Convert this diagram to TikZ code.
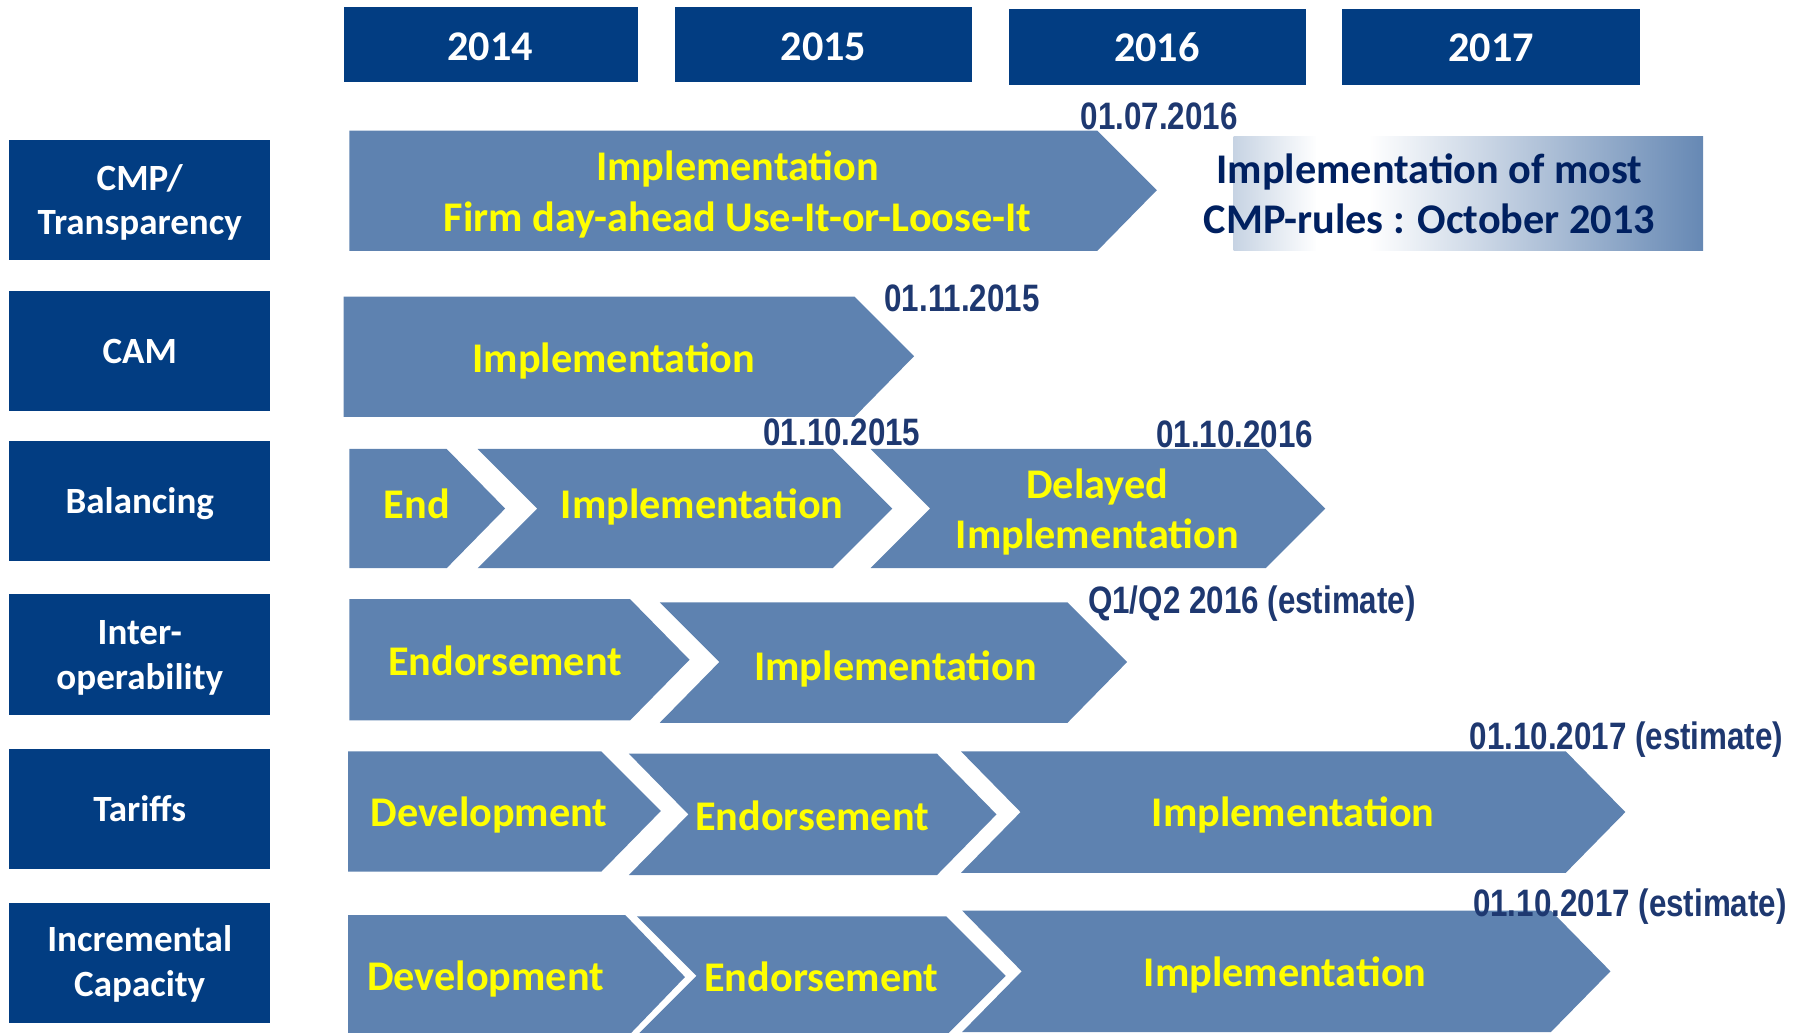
\documentclass[tikz,border=0pt]{standalone}
\usepackage{fontspec}
\setmainfont{Carlito}
\newfontfamily\datefont[FakeStretch=0.82]{Liberation Sans}
\usetikzlibrary{positioning}

\definecolor{navybox}{RGB}{2,61,130}
\definecolor{chevblue}{RGB}{94,130,176}
\definecolor{datecol}{RGB}{30,56,112}
\definecolor{darktext}{RGB}{0,32,96}
\definecolor{yell}{RGB}{255,255,0}

\tikzset{
  yearbox/.style={fill=navybox},
  rowbox/.style={fill=navybox},
  chev/.style={fill=chevblue},
  yeartxt/.style={anchor=base, text=white, font=\fontsize{21}{25}\selectfont\bfseries},
  rowtxt/.style={anchor=base, text=white, font=\fontsize{18.4}{22}\selectfont\bfseries},
  phase/.style={anchor=base, text=yell, font=\fontsize{21}{25}\selectfont\bfseries},
  datetxt/.style={anchor=base, text=datecol, font=\datefont\fontsize{19}{23}\selectfont\bfseries},
  notetxt/.style={anchor=base, text=darktext, font=\fontsize{21}{25}\selectfont\bfseries}
}

\begin{document}
\begin{tikzpicture}[x=0.02cm,y=-0.02cm]
\useasboundingbox (0,0) rectangle (1568,901);
\clip (0,0) rectangle (1568,901);

% years
\fill [yearbox] (300,6) rectangle (557,72);
\fill [yearbox] (589,6) rectangle (849,72);
\fill [yearbox] (881,8) rectangle (1140,74);
\fill [yearbox] (1172,8) rectangle (1432,74);
\node [yeartxt] (y14) at (428,53) {2014};
\node [yeartxt] (y15) at (719,53) {2015};
\node [yeartxt] (y16) at (1010,54) {2016};
\node [yeartxt] (y17) at (1302,54) {2017};

% rows
\fill [rowbox] (8,122) rectangle (236,227);
\fill [rowbox] (8,254) rectangle (236,359);
\fill [rowbox] (8,385) rectangle (236,490);
\fill [rowbox] (8,519) rectangle (236,624);
\fill [rowbox] (8,654) rectangle (236,759);
\fill [rowbox] (8,788) rectangle (236,893);
\node [rowtxt] (cmp1) at (122,166) {CMP/};
\node [rowtxt] (cmp2) at (122,205) {Transparency};
\node [rowtxt] (cam) at (122,317) {CAM};
\node [rowtxt] (bal) at (122,448) {Balancing};
\node [rowtxt] (int1) at (122,563) {Inter-};
\node [rowtxt] (int2) at (122,602) {operability};
\node [rowtxt] (tar) at (122,717) {Tariffs};
\node [rowtxt] (inc1) at (122,831) {Incremental};
\node [rowtxt] (inc2) at (122,870) {Capacity};

% CMP
\fill [chev] (305,114) -- (958,114) -- (1010,166) -- (958,219) -- (305,219) -- cycle;
\shade [left color=chevblue!35, right color=white] (1077,119) rectangle (1150,219);
\fill [white] (1149,119) rectangle (1196,219);
\shade [left color=white, right color=chevblue!95] (1195,119) rectangle (1487,219);
\node [phase] (cmpa) at (644,158) {Implementation};
\node [phase] (cmpb) at (644,202) {Firm day-ahead Use-It-or-Loose-It};
\node [notetxt] (most1) at (1248,160) {Implementation of most};
\node [notetxt] (most2) at (1248,204) {CMP-rules : October 2013};
\node [datetxt] (d1) at (1012,113) {01.07.2016};

% CAM
\fill [chev] (300,259) -- (746,259) -- (798,311) -- (746,364) -- (300,364) -- cycle;
\node [phase] (cama) at (536,325) {Implementation};
\node [datetxt] (d2) at (840,272) {01.11.2015};

% Balancing
\fill [chev] (305,392) -- (390,392) -- (441,444) -- (390,496) -- (305,496) -- cycle;
\fill [chev] (417,392) -- (727,392) -- (779,444) -- (727,496) -- (417,496) -- (469,444) -- cycle;
\fill [chev] (760,392) -- (1105,392) -- (1157,444) -- (1105,496) -- (760,496) -- (812,444) -- cycle;
\node [phase] (bala) at (364,453) {End};
\node [phase] (balb) at (613,453) {Implementation};
\node [phase] (balc) at (958,435) {Delayed};
\node [phase] (bald) at (958,479) {Implementation};
\node [datetxt] (d3) at (735,389) {01.10.2015};
\node [datetxt] (d4) at (1078,391) {01.10.2016};

% Interoperability
\fill [chev] (305,523) -- (550,523) -- (602,576) -- (550,629) -- (305,629) -- cycle;
\fill [chev] (576,526) -- (932,526) -- (984,578) -- (932,631) -- (576,631) -- (628,578) -- cycle;
\node [phase] (inta) at (441,590) {Endorsement};
\node [phase] (intb) at (782,594) {Implementation};
\node [datetxt] (d5) at (1093,536) {Q1/Q2 2016 (estimate)};

% Tariffs
\fill [chev] (304,656) -- (525,656) -- (577,708) -- (525,761) -- (304,761) -- cycle;
\fill [chev] (549,658) -- (818,658) -- (870,711) -- (818,764) -- (549,764) -- (601,711) -- cycle;
\fill [chev] (839,656) -- (1367,656) -- (1419,709) -- (1367,762) -- (839,762) -- (891,709) -- cycle;
\node [phase] (tara) at (427,722) {Development};
\node [phase] (tarb) at (709,725) {Endorsement};
\node [phase] (tarc) at (1129,722) {Implementation};
\node [datetxt] (d6) at (1420,654) {01.10.2017 (estimate)};

% Incremental capacity
\fill [chev] (304,799) -- (546,799) -- (598,853) -- (546,907) -- (304,907) -- cycle;
\fill [chev] (556,800) -- (826,800) -- (878,852) -- (826,904) -- (556,904) -- (608,852) -- cycle;
\fill [chev] (840,795) -- (1354,795) -- (1406,848) -- (1354,901) -- (840,901) -- (892,848) -- cycle;
\node [phase] (inca) at (424,865) {Development};
\node [phase] (incb) at (717,866) {Endorsement};
\node [phase] (incc) at (1122,861) {Implementation};
\node [datetxt] (d7) at (1423,800) {01.10.2017 (estimate)};
\end{tikzpicture}
\end{document}
